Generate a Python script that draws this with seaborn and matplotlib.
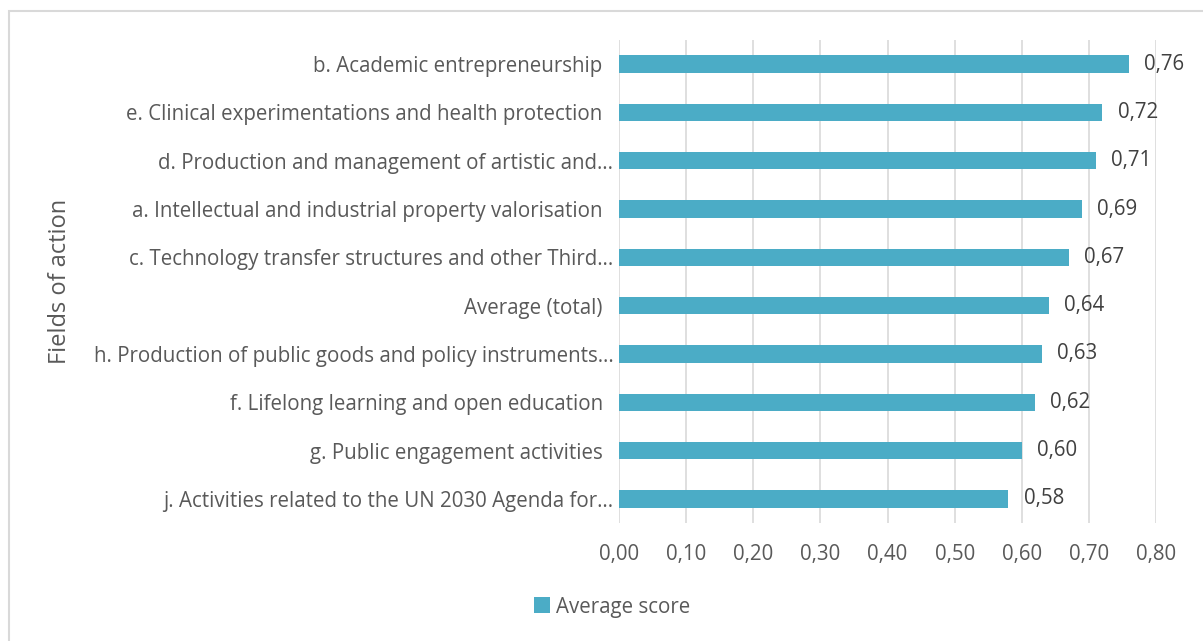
import matplotlib
matplotlib.use("Agg")
import matplotlib.pyplot as plt
import seaborn as sns
import pandas as pd
from matplotlib.patches import Rectangle
from matplotlib.ticker import MultipleLocator, FuncFormatter

# Fields of action and their average scores (top to bottom)
fields = [
    "b. Academic entrepreneurship  ",
    "e. Clinical experimentations and health protection  ",
    "d. Production and management of artistic and…",
    "a. Intellectual and industrial property valorisation  ",
    "c. Technology transfer structures and other Third…",
    "Average (total)  ",
    "h. Production of public goods and policy instruments…",
    "f. Lifelong learning and open education  ",
    "g. Public engagement activities  ",
    "j. Activities related to the UN 2030 Agenda for…",
]
scores = [0.76, 0.72, 0.71, 0.69, 0.67, 0.64, 0.63, 0.62, 0.60, 0.58]
series_name = "Average score"
y_label = "Fields of action"

df = pd.DataFrame({"field": fields, "score": scores})

sns.set_theme(style="white")
plt.rcParams["font.family"] = ["Open Sans", "DejaVu Sans"]

text_color = "#595959"
bar_color = "#4BACC6"
grid_color = "#D9D9D9"
fs = 14.8

fig = plt.figure(figsize=(12.03, 6.41), dpi=100)
ax = fig.add_axes([619 / 1203, 1 - 523 / 641, (1156 - 619) / 1203, (523 - 40) / 641])

sns.barplot(data=df, x="score", y="field", orient="h", color=bar_color,
            width=0.36, ax=ax, label=series_name, saturation=1,
            edgecolor="none", legend=False)
if ax.get_legend() is not None:
    ax.get_legend().remove()

ax.set_xlim(0, 0.8)
ax.xaxis.set_major_locator(MultipleLocator(0.1))
ax.xaxis.set_major_formatter(FuncFormatter(lambda v, p: f"{v:.2f}".replace(".", ",")))
ax.grid(axis="x", color=grid_color, linewidth=1.2)
ax.set_axisbelow(True)
for s in ax.spines.values():
    s.set_visible(False)

ax.tick_params(axis="x", colors=text_color, labelsize=fs, length=0, pad=15)
ax.tick_params(axis="y", colors=text_color, labelsize=fs, length=0, pad=4)
ax.set_xlabel("")
ax.set_ylabel(y_label, color=text_color, fontsize=17)
ax.yaxis.set_label_coords((72 - 619) / 537, 0.5)

for container in ax.containers:
    ax.bar_label(container, labels=[f"{v:.2f}".replace(".", ",") for v in scores],
                 padding=11, color="#404040", fontsize=fs)

handles, labels = ax.get_legend_handles_labels()
fig.legend(handles, labels, loc="center", bbox_to_anchor=(612 / 1203, 1 - 607 / 641),
           frameon=False, fontsize=fs, handlelength=0.8, handleheight=0.8,
           handletextpad=0.3, labelcolor=text_color)

# outer chart frame
fig.patches.append(Rectangle((8.5 / 1203, -0.1), 1.2, 1 - 10.5 / 641 + 0.1,
                             transform=fig.transFigure, fill=False,
                             edgecolor="#D9D9D9", linewidth=1.5))

fig.savefig("out.png", dpi=100, facecolor="white")
